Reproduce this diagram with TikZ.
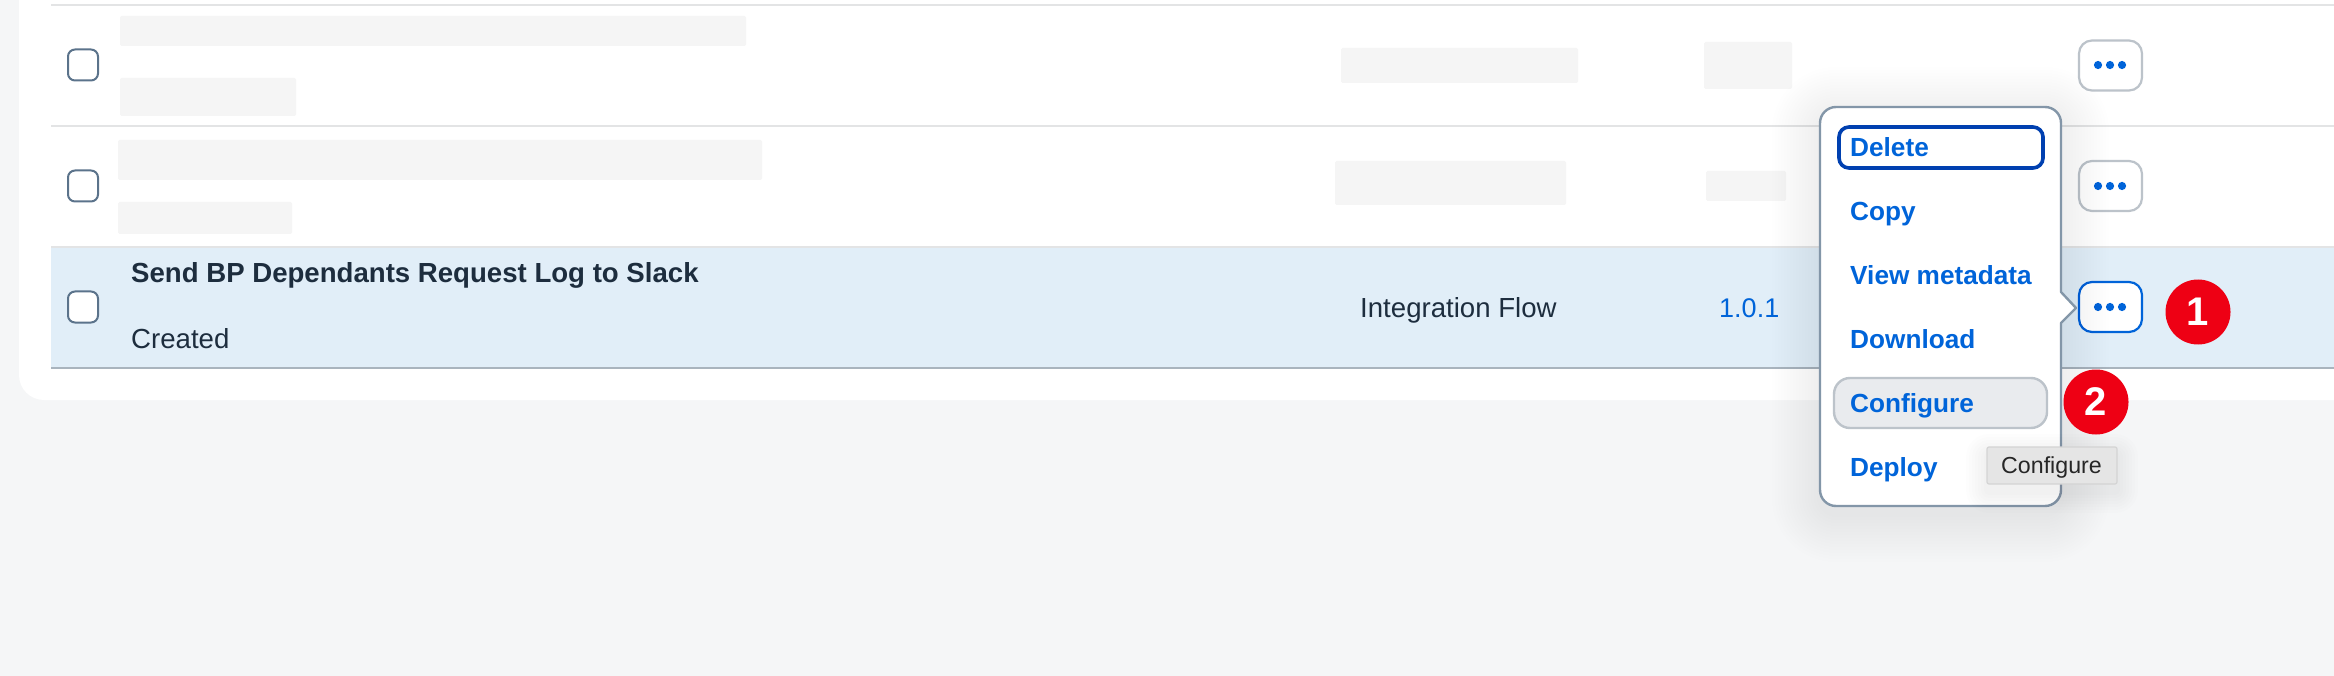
\documentclass[tikz,border=0pt]{standalone}
\usepackage{fontspec}
\setmainfont{Liberation Sans}
\definecolor{pagebg}{HTML}{F5F6F7}
\definecolor{rowsel}{HTML}{E1EEF8}
\definecolor{rowline}{HTML}{E3E4E5}
\definecolor{rowlinedark}{HTML}{A9B4BE}
\definecolor{placeholder}{HTML}{F5F5F5}
\definecolor{checkline}{HTML}{5B738B}
\definecolor{titleink}{HTML}{1D2D3E}
\definecolor{sapblue}{HTML}{0064D9}
\definecolor{focusblue}{HTML}{0040B0}
\definecolor{menuline}{HTML}{8396A8}
\definecolor{softline}{HTML}{BCC3CA}
\definecolor{hoverfill}{HTML}{E9EBEE}
\definecolor{badgered}{HTML}{EE0014}
\definecolor{tipfill}{HTML}{E5E5E5}
\definecolor{tipline}{HTML}{D4D4D4}
\tikzset{
  x=1pt,y=-1pt,
  rowrule/.style={draw=rowline,line width=2.2pt},
  ph/.style={fill=placeholder,rounded corners=1.5pt},
  checkbox/.style={draw=checkline,line width=2pt,fill=white,rounded corners=7pt},
  morebtn/.style={draw=softline,line width=2.2pt,fill=white,rounded corners=13pt},
  moredot/.style={fill=sapblue},
  menutext/.style={anchor=base west,inner sep=0pt,text=sapblue,font=\fontsize{26.2}{30}\selectfont\bfseries},
  rowtext/.style={anchor=base west,inner sep=0pt,text=titleink,font=\fontsize{27.6}{30}\selectfont},
  badge/.style={circle,fill=badgered,minimum size=65pt,inner sep=0pt,text=white,font=\fontsize{40}{44}\selectfont\bfseries},
}
\begin{document}
\begin{tikzpicture}
\useasboundingbox (0,0) rectangle (2334,676);
\fill[pagebg] (0,0) rectangle (2334,676);
% card
\fill[white,rounded corners=25pt] (19,-40) rectangle (2400,400);
% selected row
\fill[rowsel] (51,248) rectangle (2334,367);
\draw[rowrule] (51,5) -- (2334,5);
\draw[rowrule] (51,126) -- (2334,126);
\draw[rowrule] (51,247) -- (2334,247);
\draw[rowlinedark,line width=2.6pt] (51,368) -- (2334,368);
% placeholders
\fill[ph] (120,16) rectangle (746,46);
\fill[ph] (120,78) rectangle (296,116);
\fill[ph] (118,140) rectangle (762,180);
\fill[ph] (118,202) rectangle (292,234);
\fill[ph] (1341,48) rectangle (1578,83);
\fill[ph] (1704,42) rectangle (1792,89);
\fill[ph] (1335,161) rectangle (1566,205);
\fill[ph] (1706,171) rectangle (1786,201);
% checkboxes
\draw[checkbox] (68,49.5) rectangle (98,80.5);
\draw[checkbox] (68,170.5) rectangle (98,201.5);
\draw[checkbox] (68,291.5) rectangle (98,322.5);
% row text
\node[rowtext,font=\fontsize{27.6}{30}\selectfont\bfseries] (title) at (131,283) {Send BP Dependants Request Log to Slack};
\node[rowtext] (created) at (131,348) {Created};
\node[rowtext] (kind) at (1360,317) {Integration Flow};
\node[rowtext,text=sapblue,font=\fontsize{27}{30}\selectfont] (version) at (1719,317) {1.0.1};
% more buttons
\draw[morebtn] (2079,40.5) rectangle (2142,90.5);
\draw[morebtn] (2079,161) rectangle (2142,211);
\draw[morebtn,draw=sapblue] (2079,282) rectangle (2142,332);
\foreach \yy in {65,186,307}{
  \foreach \xx in {2098,2110,2122}{
    \fill[moredot] (\xx,\yy) circle (4.1pt);
  }
}
% menu shadow
\foreach \rr in {3,6,...,48}{
  \pgfmathsetmacro{\cc}{16+\rr}
  \fill[black,opacity=0.0055,rounded corners=\cc pt] (1820-\rr,107-\rr+8) rectangle (2061+\rr,506+\rr+8);
}
% menu
\draw[menuline,line width=2.4pt,fill=white,line join=round]
  (1836,107) -- (2045,107) arc[start angle=-90,end angle=0,radius=16] -- (2061,292) -- (2076,308) -- (2061,323)
  -- (2061,490) arc[start angle=0,end angle=90,radius=16] -- (1836,506) arc[start angle=90,end angle=180,radius=16]
  -- (1820,123) arc[start angle=180,end angle=270,radius=16] -- cycle;
\draw[focusblue,line width=3.6pt,rounded corners=10pt] (1839,127) rectangle (2043,168);
\draw[softline,line width=2.4pt,fill=hoverfill,rounded corners=16pt] (1834,378) rectangle (2047,428);
\node[menutext] (del) at (1850,157) {Delete};
\node[menutext] (copy) at (1850,220.5) {Copy};
\node[menutext] (meta) at (1850,284) {View metadata};
\node[menutext] (down) at (1850,348) {Download};
\node[menutext] (conf) at (1850,412) {Configure};
\node[menutext] (depl) at (1850,476) {Deploy};
% badges
\node[badge] (one) at (2198,312) {1};
\node[badge] (two) at (2096,402) {2};
% tooltip
\foreach \rr in {3,6,...,21}{
  \pgfmathsetmacro{\cc}{2+\rr}
  \fill[black,opacity=0.008,rounded corners=\cc pt] (1987-\rr,447-\rr+8) rectangle (2117+\rr,484+\rr+8);
}
\draw[tipline,line width=1.2pt,fill=tipfill,rounded corners=2pt] (1987,447) rectangle (2117,484);
\node[anchor=base west,inner sep=0pt,text=black!85,font=\fontsize{23.2}{26}\selectfont] (tip) at (2001,473.5) {Configure};
\end{tikzpicture}
\end{document}
